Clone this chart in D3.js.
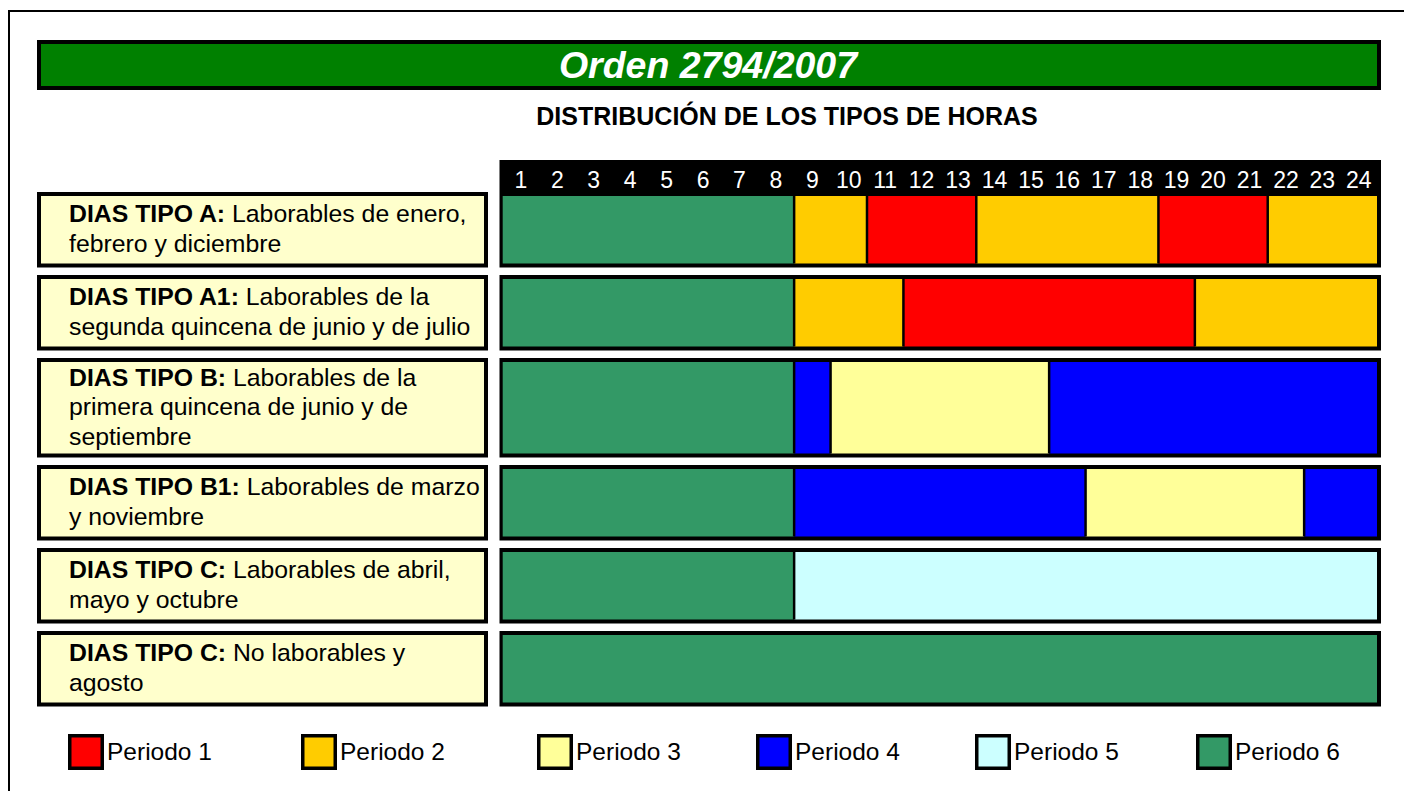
<!DOCTYPE html>
<html><head><meta charset="utf-8">
<script src="https://cdn.jsdelivr.net/npm/d3@7"></script>
<style>body{margin:0;background:#fff;overflow:hidden} text{font-family:"Liberation Sans",Arial,Helvetica,sans-serif}</style>
</head><body><svg id="c" width="1404" height="791"></svg>
<script>
// ---------- data ----------
const title = "Orden 2794/2007";
const subtitle = "DISTRIBUCIÓN DE LOS TIPOS DE HORAS";
const hours = d3.range(1, 25);
const periods = ["Periodo 1", "Periodo 2", "Periodo 3", "Periodo 4", "Periodo 5", "Periodo 6"];
const periodColors = ["#FF0000", "#FFCC00", "#FFFF99", "#0000FF", "#CCFFFF", "#339966"];
const rowTitles = ["DIAS TIPO A:", "DIAS TIPO A1:", "DIAS TIPO B:", "DIAS TIPO B1:", "DIAS TIPO C:", "DIAS TIPO C:"];
const rowLines = [
  ["Laborables de enero,", "febrero y diciembre"],
  ["Laborables de la", "segunda quincena de junio y de julio"],
  ["Laborables de la", "primera quincena de junio y de", "septiembre"],
  ["Laborables de marzo", "y noviembre"],
  ["Laborables de abril,", "mayo y octubre"],
  ["No laborables y", "agosto"]
];
// period (1..6) of each hour 1..24, per day type
const hoursTipoA  = [6,6,6,6,6,6,6,6,2,2,1,1,1,2,2,2,2,2,1,1,1,2,2,2];
const hoursTipoA1 = [6,6,6,6,6,6,6,6,2,2,2,1,1,1,1,1,1,1,1,2,2,2,2,2];
const hoursTipoB  = [6,6,6,6,6,6,6,6,4,3,3,3,3,3,3,4,4,4,4,4,4,4,4,4];
const hoursTipoB1 = [6,6,6,6,6,6,6,6,4,4,4,4,4,4,4,4,3,3,3,3,3,3,4,4];
const hoursTipoC  = [6,6,6,6,6,6,6,6,5,5,5,5,5,5,5,5,5,5,5,5,5,5,5,5];
const hoursTipoCnl= [6,6,6,6,6,6,6,6,6,6,6,6,6,6,6,6,6,6,6,6,6,6,6,6];
const rowHours = [hoursTipoA, hoursTipoA1, hoursTipoB, hoursTipoB1, hoursTipoC, hoursTipoCnl];

// ---------- layout ----------
const svg = d3.select("#c");
const color = d3.scaleOrdinal().domain(d3.range(1, 7)).range(periodColors);
const x = d3.scaleLinear().domain([0, 24]).range([502.7, 1377]);
const labelX0 = 37, labelX1 = 488, chartX0 = 499.5, chartX1 = 1381;
const bw = 4;

// outer frame (left and top lines)
svg.append("path").attr("d", "M9,791 V11 H1404").attr("fill", "none").attr("stroke", "#000").attr("stroke-width", 2);

// title bar
svg.append("rect").attr("x", 37 + bw / 2).attr("y", 40 + bw / 2).attr("width", 1381 - 37 - bw).attr("height", 50 - bw)
  .attr("fill", "#008000").attr("stroke", "#000").attr("stroke-width", bw);
svg.append("text").attr("x", 708).attr("y", 78).attr("text-anchor", "middle")
  .attr("fill", "#fff").attr("font-size", 37.5).attr("font-weight", "bold").attr("font-style", "italic").text(title);
svg.append("text").attr("x", 787).attr("y", 125).attr("text-anchor", "middle")
  .attr("fill", "#000").attr("font-size", 25).attr("font-weight", "bold").text(subtitle);

// rows geometry
const gap = 7.5, firstTop = 192;
const rowH = rowLines.map(l => 27.5 + 24 * l.length);
const rowTop = [];
rowH.reduce((acc, h, i) => { rowTop[i] = acc; return acc + h + gap; }, firstTop);
const headerTop = 160;

// segments from hour periods
function toSegments(arr) {
  const segs = [];
  arr.forEach((p, i) => {
    const last = segs[segs.length - 1];
    if (last && last.p === p) last.e = i + 1; else segs.push({ s: i, e: i + 1, p });
  });
  return segs;
}

rowHours.forEach((arr, r) => {
  const top = rowTop[r], h = rowH[r];
  const ctop = r === 0 ? headerTop : top;
  const fillTop = top + bw, fillBot = top + h - bw;
  const g = svg.append("g");
  // label box
  g.append("rect").attr("x", labelX0 + bw / 2).attr("y", top + bw / 2).attr("width", labelX1 - labelX0 - bw).attr("height", h - bw)
    .attr("fill", "#FFFFCC").attr("stroke", "#000").attr("stroke-width", bw);
  const n = rowLines[r].length;
  const lh = n === 3 ? 29.5 : 30;
  const first = top + h / 2 - (n - 1) * lh / 2 + 7.5;
  const t = g.append("text").attr("font-size", 24.8).attr("fill", "#000");
  rowLines[r].forEach((line, i) => {
    if (i === 0) {
      t.append("tspan").attr("x", 69).attr("y", first).attr("font-weight", "bold").text(rowTitles[r]);
      t.append("tspan").text(" " + line);
    } else {
      t.append("tspan").attr("x", 69).attr("y", first + i * lh).text(line);
    }
  });
  // chart box border (first row includes the black hour header)
  g.append("rect").attr("x", chartX0).attr("y", ctop).attr("width", chartX1 - chartX0).attr("height", top + h - ctop).attr("fill", "#000");
  const segs = toSegments(arr);
  g.selectAll("rect.seg").data(segs).join("rect").attr("class", "seg")
    .attr("x", d => x(d.s)).attr("y", fillTop).attr("width", d => x(d.e) - x(d.s)).attr("height", fillBot - fillTop)
    .attr("fill", d => color(d.p));
  g.selectAll("line.div").data(segs.slice(1)).join("line").attr("class", "div")
    .attr("x1", d => x(d.s)).attr("x2", d => x(d.s)).attr("y1", fillTop).attr("y2", fillBot)
    .attr("stroke", "#000").attr("stroke-width", 2.5);
});

// hour labels on the black header
svg.append("g").selectAll("text").data(hours).join("text")
  .attr("x", d => x(d - 0.5)).attr("y", 188).attr("text-anchor", "middle")
  .attr("fill", "#fff").attr("font-size", 23).text(d => d);

// legend
const legendX = d3.scaleOrdinal().domain(periods).range([68, 301, 537, 756, 975, 1196]);
const lg = svg.append("g").selectAll("g").data(periods).join("g")
  .attr("transform", d => `translate(${legendX(d)},734)`);
lg.append("rect").attr("x", 1.75).attr("y", 1.75).attr("width", 32.5).attr("height", 32.5)
  .attr("fill", (d, i) => periodColors[i]).attr("stroke", "#000").attr("stroke-width", 3.5);
lg.append("text").attr("x", 39).attr("y", 26).attr("font-size", 24.5).attr("fill", "#000").text(d => d);
</script></body></html>
